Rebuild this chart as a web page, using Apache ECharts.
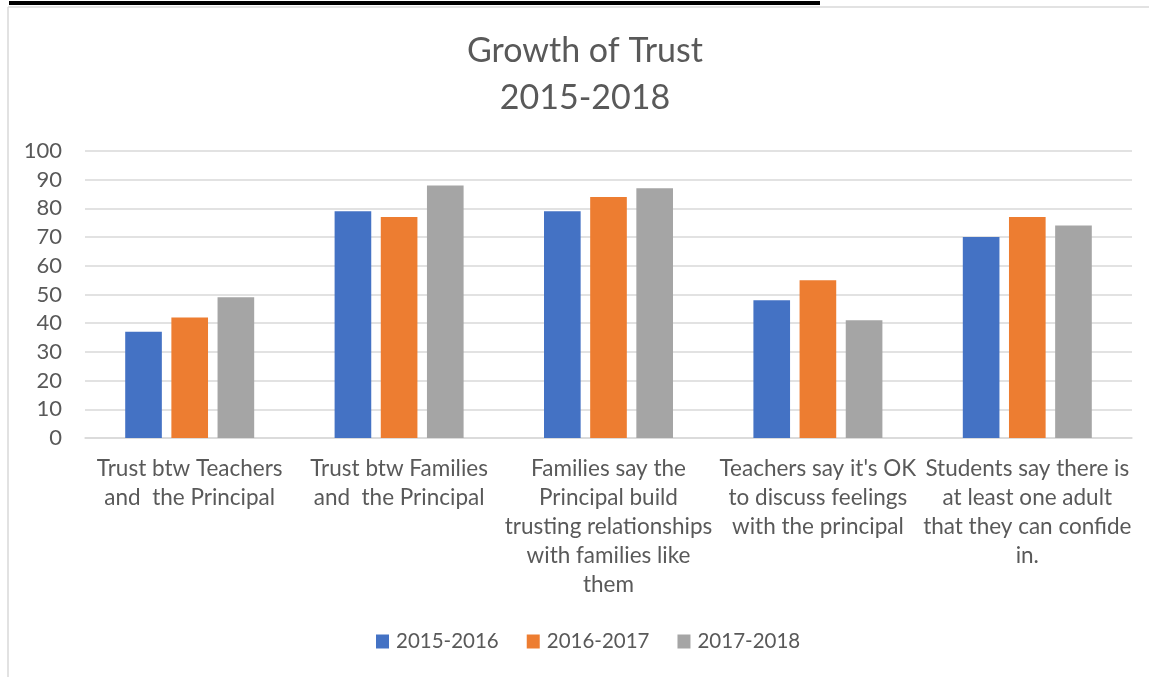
<!DOCTYPE html>
<html>
<head>
<meta charset="utf-8">
<script src="https://cdn.jsdelivr.net/npm/echarts@6/dist/echarts.min.js"></script>
<style>
html,body{margin:0;padding:0;background:#fff;}
#main{width:1149px;height:677px;}
</style>
</head>
<body>
<div id="main"></div>
<script>
var categories = [
  "Trust btw Teachers\nand  the Principal",
  "Trust btw Families\nand  the Principal",
  "Families say the\nPrincipal build\ntrusting relationships\nwith families like\nthem",
  "Teachers say it's OK\nto discuss feelings\nwith the principal",
  "Students say there is\nat least one adult\nthat they can confide\nin."
];
var seriesNames = ["2015-2016", "2016-2017", "2017-2018"];
var values2015 = [37, 79, 79, 48, 70];
var values2016 = [42, 77, 84, 55, 77];
var values2017 = [49, 88, 87, 41, 74];
var colors = ["#4472C4", "#ED7D31", "#A5A5A5"];
var FONT = "Lato";

var chart = echarts.init(document.getElementById('main'));
var data = [values2015, values2016, values2017];
chart.setOption({
  animation: false,
  backgroundColor: '#fff',
  title: {
    text: "Growth of Trust\n2015-2018",
    left: 585,
    top: 28,
    padding: 0,
    textAlign: 'center',
    textStyle: {fontFamily: FONT, fontSize: 34, fontWeight: 'normal', color: '#595959', lineHeight: 47}
  },
  legend: {
    data: seriesNames,
    left: 376,
    top: 631,
    padding: 0,
    icon: 'rect',
    itemWidth: 13,
    itemHeight: 14,
    itemGap: 28,
    textStyle: {fontFamily: FONT, fontSize: 20.5, color: '#595959', padding: [0, 0, 0, 2]}
  },
  grid: {left: 85, right: 17, top: 151, bottom: 239, containLabel: false},
  xAxis: {
    type: 'category',
    data: categories,
    axisLine: {lineStyle: {color: '#D9D9D9', width: 1.5}},
    axisTick: {show: false},
    axisLabel: {fontFamily: FONT, fontSize: 22.5, color: '#595959', lineHeight: 29, margin: 16, interval: 0}
  },
  yAxis: {
    type: 'value',
    min: 0, max: 100, interval: 10,
    axisLine: {show: false},
    axisTick: {show: false},
    splitLine: {lineStyle: {color: '#D9D9D9', width: 1.5}},
    axisLabel: {fontFamily: FONT, fontSize: 22, color: '#595959', margin: 23}
  },
  series: seriesNames.map(function (n, i) {
    return {
      name: n, type: 'bar', data: data[i],
      barWidth: '17.5%', barGap: '26%',
      itemStyle: {color: colors[i]}
    };
  }),
  graphic: [
    {type: 'rect', shape: {x: 9, y: 1, width: 811, height: 4}, style: {fill: '#000'}, z: 10},
    {type: 'line', shape: {x1: 8, y1: 7, x2: 1149, y2: 7}, style: {stroke: '#D9D9D9', lineWidth: 1.5}},
    {type: 'line', shape: {x1: 8, y1: 7, x2: 8, y2: 677}, style: {stroke: '#D9D9D9', lineWidth: 1.5}}
  ]
});
</script>
</body>
</html>
